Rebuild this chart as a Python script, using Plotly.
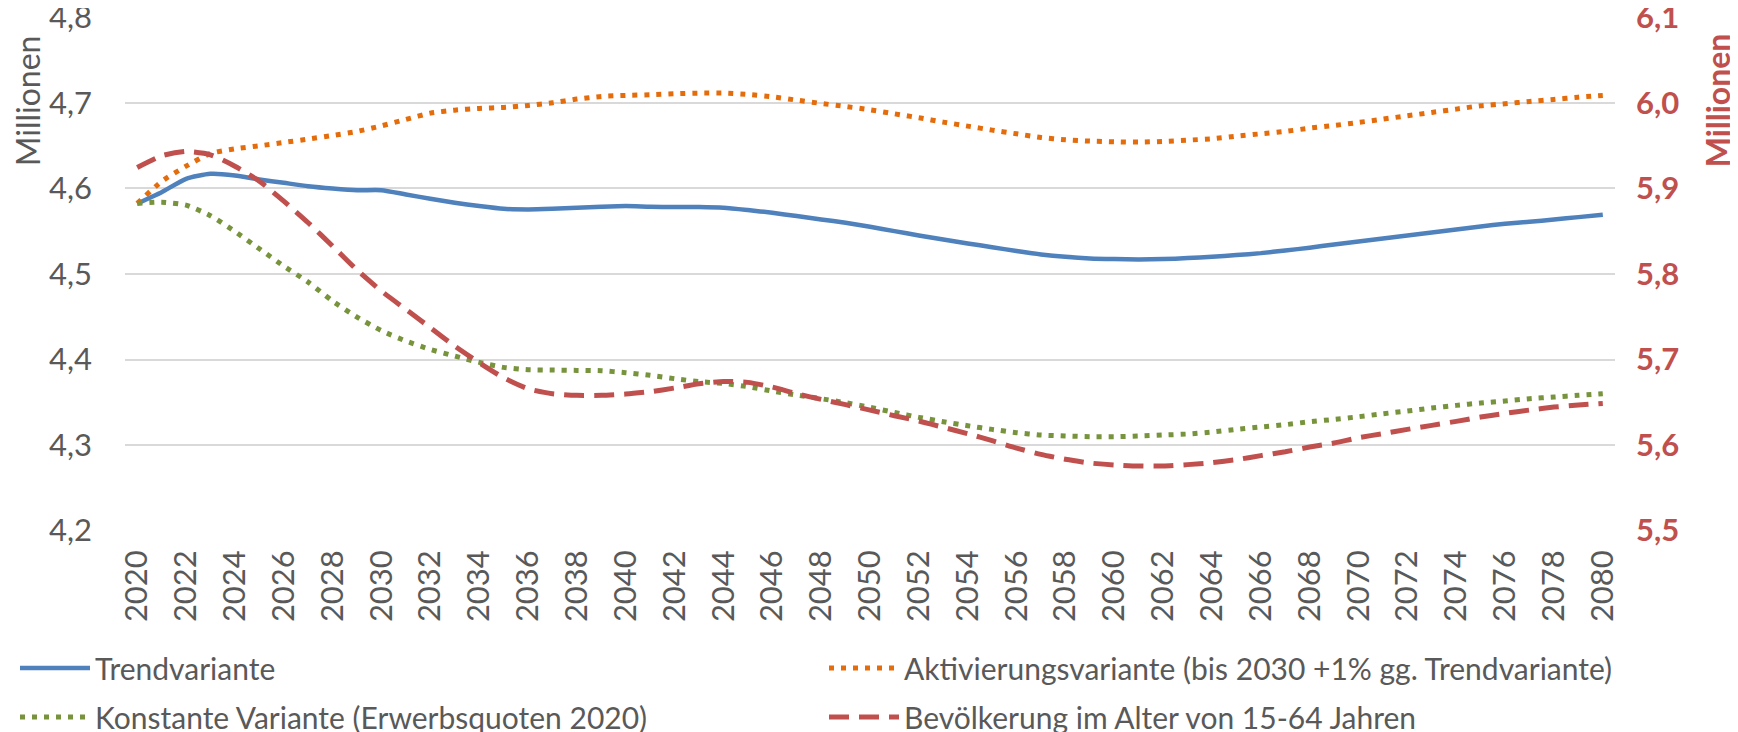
import plotly.graph_objects as go

years = list(range(2020, 2081))
tick_years = list(range(2020, 2081, 2))
left_ticks = [4.2, 4.3, 4.4, 4.5, 4.6, 4.7, 4.8]
right_ticks = [5.5, 5.6, 5.7, 5.8, 5.9, 6.0, 6.1]

trend = [4.5825, 4.5957, 4.6113, 4.6171, 4.6152, 4.6105, 4.6066, 4.6027, 4.6000, 4.5980,
         4.5980, 4.5930, 4.5880, 4.5833, 4.5794, 4.5762, 4.5755, 4.5762, 4.5774, 4.5786,
         4.5794, 4.5786, 4.5782, 4.5782, 4.5774, 4.5747, 4.5716, 4.5677, 4.5638, 4.5599,
         4.5552, 4.5501, 4.5451, 4.5404, 4.5357, 4.5314, 4.5268, 4.5229, 4.5201, 4.5182,
         4.5174, 4.5170, 4.5174, 4.5186, 4.5201, 4.5221, 4.5244, 4.5275, 4.5307, 4.5346,
         4.5381, 4.5416, 4.5451, 4.5486, 4.5521, 4.5556, 4.5587, 4.5610, 4.5638, 4.5665, 4.5692]

aktiv = [4.5825, 4.6082, 4.6261, 4.6409, 4.6464, 4.6499, 4.6538, 4.6577, 4.6620, 4.6667,
         4.6733, 4.6807, 4.6881, 4.6916, 4.6936, 4.6947, 4.6971, 4.7002, 4.7045, 4.7076,
         4.7088, 4.7096, 4.7107, 4.7115, 4.7115, 4.7099, 4.7072, 4.7033, 4.6994, 4.6959,
         4.6920, 4.6873, 4.6827, 4.6776, 4.6729, 4.6682, 4.6639, 4.6596, 4.6569, 4.6554,
         4.6546, 4.6542, 4.6550, 4.6565, 4.6581, 4.6612, 4.6639, 4.6667, 4.6706, 4.6737,
         4.6772, 4.6811, 4.6850, 4.6889, 4.6928, 4.6967, 4.6990, 4.7018, 4.7041, 4.7068, 4.7088]

konst = [4.5825, 4.5840, 4.5805, 4.5681, 4.5497, 4.5295, 4.5092, 4.4905, 4.4683, 4.4496,
         4.4337, 4.4216, 4.4118, 4.4041, 4.3967, 4.3908, 4.3881, 4.3877, 4.3873, 4.3869,
         4.3846, 4.3815, 4.3776, 4.3741, 4.3721, 4.3682, 4.3631, 4.3585, 4.3542, 4.3495,
         4.3441, 4.3382, 4.3324, 4.3273, 4.3226, 4.3183, 4.3145, 4.3117, 4.3106, 4.3098,
         4.3098, 4.3106, 4.3117, 4.3129, 4.3152, 4.3183, 4.3211, 4.3238, 4.3273, 4.3300,
         4.3331, 4.3366, 4.3398, 4.3433, 4.3464, 4.3491, 4.3515, 4.3542, 4.3561, 4.3581, 4.3600]

bevoelkerung = [5.9246, 5.9382, 5.9433, 5.9394, 5.9260, 5.9086, 5.8852, 5.8599, 5.8326, 5.8046,
                5.7800, 5.7586, 5.7372, 5.7157, 5.6963, 5.6787, 5.6659, 5.6600, 5.6581, 5.6581,
                5.6596, 5.6624, 5.6667, 5.6717, 5.6744, 5.6733, 5.6678, 5.6600, 5.6534, 5.6472,
                5.6409, 5.6343, 5.6281, 5.6207, 5.6133, 5.6051, 5.5965, 5.5891, 5.5833, 5.5790,
                5.5767, 5.5755, 5.5755, 5.5771, 5.5794, 5.5829, 5.5876, 5.5922, 5.5977, 5.6024,
                5.6086, 5.6133, 5.6183, 5.6230, 5.6277, 5.6328, 5.6370, 5.6409, 5.6444, 5.6468, 5.6487]

names = ["Trendvariante",
         "Aktivierungsvariante (bis 2030 +1% gg. Trendvariante)",
         "Konstante Variante (Erwerbsquoten 2020)",
         "Bevölkerung im Alter von 15-64 Jahren"]

GRAY = "#595959"
RED = "#C0504D"
FONT = "Lato"
TICK = 31
LEG = 30
W, H = 1730, 724  # page body margin of 8px shifts the figure

fig = go.Figure()
fig.add_trace(go.Scatter(x=years, y=trend, name=names[0], mode="lines", legend="legend",
                         line=dict(color="#4F81BD", width=4.5, shape="spline", smoothing=0.6)))
fig.add_trace(go.Scatter(x=years, y=aktiv, name=names[1], mode="lines", legend="legend2",
                         line=dict(color="#E46C0A", width=5, dash="5px,7px", shape="spline", smoothing=0.6)))
fig.add_trace(go.Scatter(x=years, y=konst, name=names[2], mode="lines", legend="legend3",
                         line=dict(color="#77933C", width=5, dash="5px,7px", shape="spline", smoothing=0.6)))
fig.add_trace(go.Scatter(x=years, y=bevoelkerung, name=names[3], mode="lines", yaxis="y2", legend="legend4",
                         line=dict(color=RED, width=5, dash="20px,10px", shape="spline", smoothing=0.6)))

def leg(xpx, ypx):
    return dict(orientation="v", xref="container", yref="container", x=xpx / W, y=1 - ypx / H,
                xanchor="left", yanchor="middle", itemwidth=70,
                font=dict(family=FONT, size=LEG, color=GRAY), bgcolor="rgba(0,0,0,0)")

fig.update_layout(
    width=W, height=H,
    margin=dict(l=117, r=123, t=9, b=201, autoexpand=False),
    paper_bgcolor="white", plot_bgcolor="white",
    separators=",.",
    font=dict(family=FONT, color=GRAY, size=TICK),
    xaxis=dict(range=[2019.5, 2080.5], tickvals=tick_years, ticktext=[str(y) for y in tick_years],
               tickangle=-90, showgrid=False, zeroline=False, showline=False, ticks="",
               automargin=False, ticklabelstandoff=12, ticklabeloverflow="allow",
               tickfont=dict(family=FONT, size=TICK, color=GRAY)),
    yaxis=dict(range=[4.1995, 4.8005], tickvals=left_ticks, tickformat=".1f", automargin=False,
               showgrid=True, gridcolor="#D9D9D9", gridwidth=1.5, zeroline=False, showline=False,
               ticks="", ticklabelstandoff=32, ticklabeloverflow="allow",
               tickfont=dict(family=FONT, size=TICK, color=GRAY)),
    yaxis2=dict(range=[5.4995, 6.1005], tickvals=right_ticks, tickformat=".1f", overlaying="y",
                side="right", showgrid=False, zeroline=False, showline=False, ticks="", automargin=False,
                ticklabelstandoff=20, ticklabeloverflow="allow",
                tickfont=dict(family=FONT, size=TICK, color=RED, weight="bold")),
    legend=leg(7, 660),
    legend2=leg(816, 660),
    legend3=leg(7, 709),
    legend4=leg(816, 709),
    showlegend=True,
)

fig.add_annotation(text="Millionen", xref="paper", yref="paper", x=-0.0658, y=0.838,
                   xanchor="center", yanchor="middle", textangle=-90, showarrow=False,
                   font=dict(family=FONT, size=32, color=GRAY))
fig.add_annotation(text="<b>Millionen</b>", xref="paper", yref="paper", x=1.0685, y=0.838,
                   xanchor="center", yanchor="middle", textangle=-90, showarrow=False,
                   font=dict(family=FONT, size=32, color=RED))

fig.write_html("out.html")
